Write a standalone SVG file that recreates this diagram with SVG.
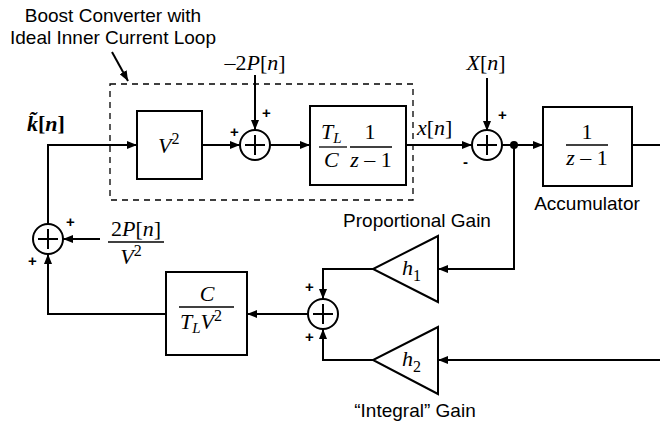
<svg xmlns="http://www.w3.org/2000/svg" width="660" height="426" viewBox="0 0 660 426">
<style>
.ln{fill:none;stroke:#000;stroke-width:2}
.bx{fill:#fff;stroke:#000;stroke-width:2}
.sm{fill:#fff;stroke:#000;stroke-width:2}
.lbl{font-family:"Liberation Sans",Arial,sans-serif;font-size:19px;fill:#000}
.m{font-family:"Liberation Serif","Times New Roman",serif;font-style:italic;font-size:22px;fill:#000}
.r{font-family:"Liberation Serif","Times New Roman",serif;font-size:22px;fill:#000}
.u{font-style:normal}
.sup{font-style:normal;font-size:16px}
.sub{font-size:15px}
.pm{font-family:"Liberation Sans",Arial,sans-serif;font-size:15px;font-weight:bold;fill:#000}
</style>
<defs>
<marker id="ah" viewBox="0 0 10 8" refX="10" refY="4" markerWidth="10" markerHeight="8" markerUnits="userSpaceOnUse" orient="auto">
<path d="M0,0 L10,4 L0,8 Z" fill="#000"/>
</marker>
</defs>
<rect width="660" height="426" fill="#fff"/>

<g id="title">
<text class="lbl" x="113" y="22" text-anchor="middle">Boost Converter with</text>
<text class="lbl" x="113" y="44" text-anchor="middle">Ideal Inner Current Loop</text>
<line class="ln" x1="112" y1="52" x2="128" y2="81" stroke-width="1.6" marker-end="url(#ah)"/>
</g>
<rect id="boost-box" x="110" y="84" width="303" height="116" fill="none" stroke="#000" stroke-width="1.3" stroke-dasharray="6,5"/>

<g id="connectors">
<path class="ln" d="M48,224 V145 H137" marker-end="url(#ah)"/>
<path class="ln" d="M202,145 H240" marker-end="url(#ah)"/>
<path class="ln" d="M255,75 V130" marker-end="url(#ah)"/>
<path class="ln" d="M270,145 H310" marker-end="url(#ah)"/>
<path class="ln" d="M406,145 H472" marker-end="url(#ah)"/>
<path class="ln" d="M487,78 V131" marker-end="url(#ah)"/>
<path class="ln" d="M502,145 H543" marker-end="url(#ah)"/>
<path class="ln" d="M632,145 H660"/>
<path class="ln" d="M514,145 V269 H438" marker-end="url(#ah)"/>
<path class="ln" d="M660,360 H438" marker-end="url(#ah)"/>
<path class="ln" d="M373,269 H323 V299" marker-end="url(#ah)"/>
<path class="ln" d="M373,360 H323 V329" marker-end="url(#ah)"/>
<path class="ln" d="M308,314 H247" marker-end="url(#ah)"/>
<path class="ln" d="M166,314 H48 V254" marker-end="url(#ah)"/>
<path class="ln" d="M100,239 H63" marker-end="url(#ah)"/>
<circle cx="514" cy="145" r="4" fill="#000"/>
</g>

<g id="k-label"><text class="m" x="27" y="131" font-weight="bold">k̃<tspan class="u">[</tspan>n<tspan class="u">]</tspan></text></g>

<g id="v2">
<rect class="bx" x="137" y="111" width="65" height="68"/>
<text class="m" x="158" y="153">V<tspan class="sup" dy="-9">2</tspan></text>
</g>

<g id="sum1">
<circle class="sm" cx="255" cy="145" r="15"/>
<path class="ln" d="M255,135 V155 M245,145 H265"/>
<text class="pm" x="230" y="137">+</text>
<text class="pm" x="262" y="118">+</text>
<text class="m" x="255" y="70" text-anchor="middle"><tspan class="u">–2</tspan>P<tspan class="u">[</tspan>n<tspan class="u">]</tspan></text>
</g>

<g id="plant">
<rect class="bx" x="310" y="106" width="96" height="79"/>
<text class="m" x="321" y="139">T<tspan class="sub" dy="4">L</tspan></text>
<line x1="319" y1="147" x2="347" y2="147" stroke="#000" stroke-width="1.3"/>
<text class="m" x="324" y="167">C</text>
<text class="r" x="370" y="139" text-anchor="middle">1</text>
<line x1="350" y1="147" x2="392" y2="147" stroke="#000" stroke-width="1.3"/>
<text class="m" x="371" y="167" text-anchor="middle">z <tspan class="u">– 1</tspan></text>
</g>

<g id="x-label"><text class="m" x="417" y="135">x<tspan class="u">[</tspan>n<tspan class="u">]</tspan></text></g>

<g id="sum2">
<circle class="sm" cx="487" cy="145" r="15"/>
<path class="ln" d="M487,135 V155 M477,145 H497"/>
<text class="pm" x="498" y="120">+</text>
<text class="pm" x="463" y="167">-</text>
<text class="m" x="486" y="70" text-anchor="middle">X<tspan class="u">[</tspan>n<tspan class="u">]</tspan></text>
</g>

<g id="accumulator">
<rect class="bx" x="543" y="107" width="89" height="79"/>
<text class="r" x="587" y="139" text-anchor="middle">1</text>
<line x1="566" y1="145" x2="608" y2="145" stroke="#000" stroke-width="1.3"/>
<text class="m" x="587" y="165" text-anchor="middle">z <tspan class="u">– 1</tspan></text>
<text class="lbl" x="587" y="210" text-anchor="middle">Accumulator</text>
</g>

<g id="h1">
<path class="bx" d="M438,236 V302 L373,269 Z"/>
<text class="m" x="402" y="275">h<tspan class="sup" dy="6">1</tspan></text>
<text class="lbl" x="417" y="227" text-anchor="middle">Proportional Gain</text>
</g>

<g id="h2">
<path class="bx" d="M438,327 V394 L373,360 Z"/>
<text class="m" x="402" y="366">h<tspan class="sup" dy="6">2</tspan></text>
<text class="lbl" x="415" y="417" text-anchor="middle">“Integral” Gain</text>
</g>

<g id="sum3">
<circle class="sm" cx="323" cy="314" r="15"/>
<path class="ln" d="M323,304 V324 M313,314 H333"/>
<text class="pm" x="305" y="292">+</text>
<text class="pm" x="305" y="342">+</text>
</g>

<g id="gain-box">
<rect class="bx" x="166" y="272" width="81" height="83"/>
<text class="m" x="207" y="301" text-anchor="middle">C</text>
<line x1="179" y1="307" x2="234" y2="307" stroke="#000" stroke-width="1.3"/>
<text class="m" x="180" y="329">T<tspan class="sub" dy="4">L</tspan><tspan dy="-4">V</tspan><tspan class="sup" dy="-8">2</tspan></text>
</g>

<g id="sum4">
<circle class="sm" cx="48" cy="239" r="15"/>
<path class="ln" d="M48,229 V249 M38,239 H58"/>
<text class="pm" x="66" y="227">+</text>
<text class="pm" x="28" y="266">+</text>
<text class="m" x="136" y="236" text-anchor="middle"><tspan class="u">2</tspan>P<tspan class="u">[</tspan>n<tspan class="u">]</tspan></text>
<line x1="108" y1="242" x2="164" y2="242" stroke="#000" stroke-width="1.3"/>
<text class="m" x="131" y="264" text-anchor="middle">V<tspan class="sup" dy="-8">2</tspan></text>
</g>
</svg>
